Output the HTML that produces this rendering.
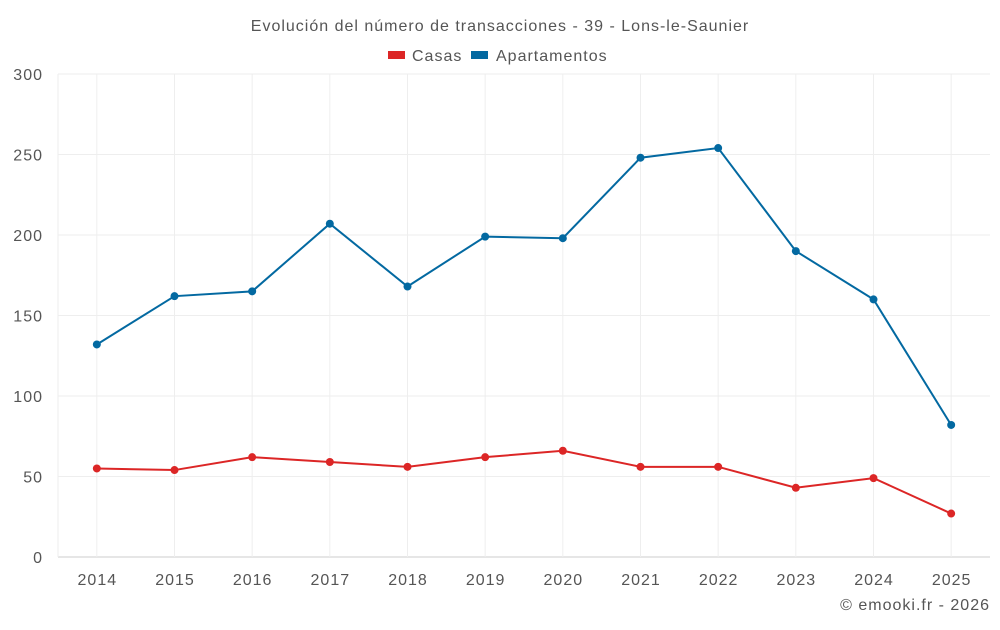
<!DOCTYPE html>
<html><head><meta charset="utf-8"><style>
body{margin:0;background:#fff;font-family:"Liberation Sans",sans-serif;}
svg text{font-family:"Liberation Sans",sans-serif;fill:#555;letter-spacing:1px;}
</style></head><body>
<svg width="1000" height="625">
<text x="500" y="31" text-anchor="middle" font-size="16">Evolución del número de transacciones - 39 - Lons-le-Saunier</text>
<g>
<rect x="388" y="51" width="17" height="8" fill="#dc2626"/>
<text x="412" y="61" font-size="16">Casas</text>
<rect x="471" y="51" width="17" height="8" fill="#0369a1"/>
<text x="496" y="61" font-size="16">Apartamentos</text>
</g>
<g id="grid"></g><g id="axes"></g><g id="series"></g>
<text x="990" y="610" text-anchor="end" font-size="16">© emooki.fr - 2026</text>
</svg>
<script>
const categories=["2014","2015","2016","2017","2018","2019","2020","2021","2022","2023","2024","2025"];
const casas=[55,54,62,59,56,62,66,56,56,43,49,27];
const apartamentos=[132,162,165,207,168,199,198,248,254,190,160,82];
const yTicks=[0,50,100,150,200,250,300];
const L=58,R=990,T=74,B=557,YMAX=300;
const ns="http://www.w3.org/2000/svg";
const bw=(R-L)/categories.length;
function x(i){return L+bw*(i+0.5);}
function y(v){return B-(v/YMAX)*(B-T);}
function mk(tag,attrs,parent){const e=document.createElementNS(ns,tag);for(const k in attrs)e.setAttribute(k,attrs[k]);document.getElementById(parent).appendChild(e);return e;}
yTicks.forEach(v=>{
 const l=mk('line',{x1:L,x2:R,y1:y(v),y2:y(v),stroke:v===0?'#ccc':'#eee','stroke-width':1},'grid');
 
 
 const t=mk('text',{x:L-15,y:y(v)+6,'text-anchor':'end','font-size':16},'axes');
 t.textContent=v;
 
 
});
const lv=mk('line',{x1:L,x2:L,y1:T,y2:B,stroke:'#eee'},'grid');


categories.forEach((c,i)=>{
 const g=mk('line',{x1:x(i),x2:x(i),y1:T,y2:B,stroke:'#eee'},'grid');
 
 
 const t=mk('text',{x:x(i)+0.5,y:585,'text-anchor':'middle','font-size':16},'axes');
 t.textContent=c;
 
 
});
function drawSeries(vals,color,name){
 const p=mk('polyline',{points:vals.map((v,i)=>x(i)+','+y(v)).join(' '),fill:'none',stroke:color,'stroke-width':2},'series');
 
 
 vals.forEach((v,i)=>{
  const c=mk('circle',{cx:x(i),cy:y(v),r:4,fill:color},'series');
  
  
 });
}
drawSeries(apartamentos,'#0369a1','apartamentos');
drawSeries(casas,'#dc2626','casas');
</script>
</body></html>
